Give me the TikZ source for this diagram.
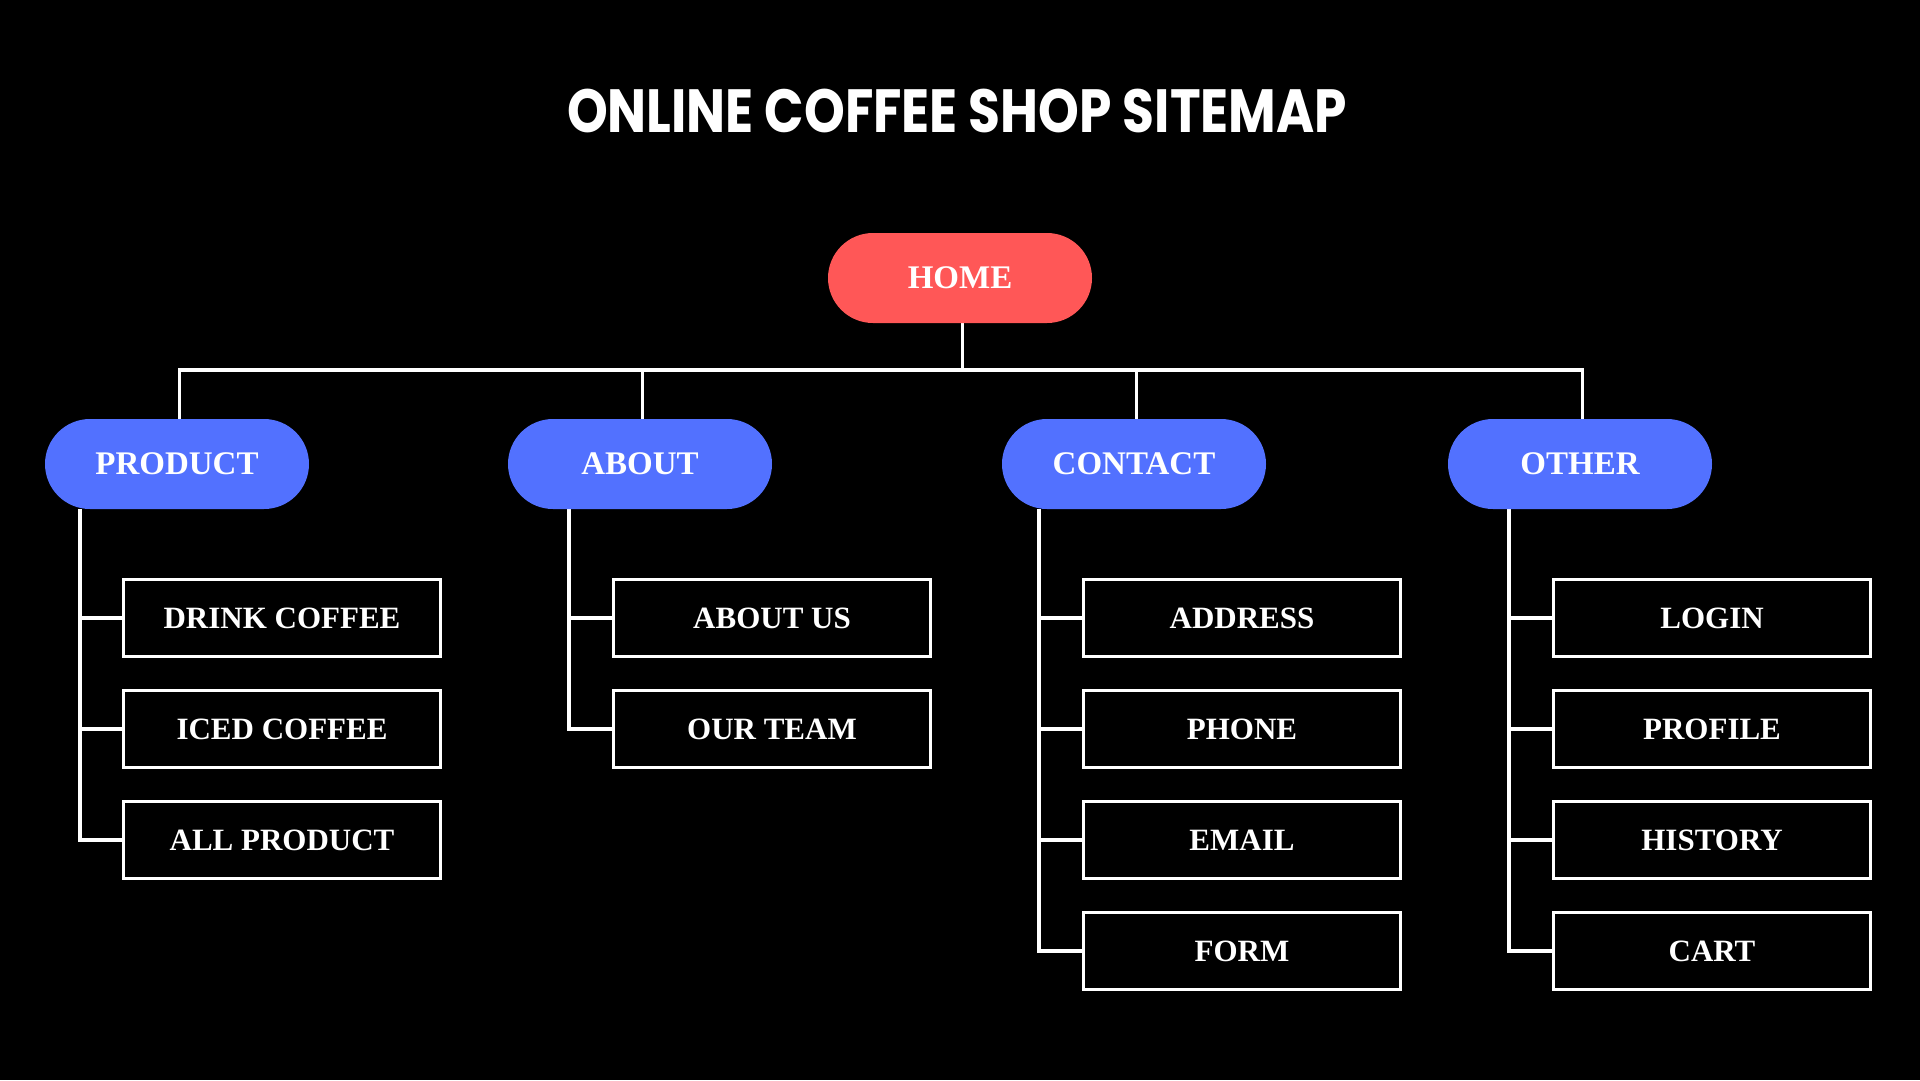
\documentclass[tikz,border=0pt]{standalone}
\usepackage{fontspec}
\setmainfont{Liberation Serif}
\newfontfamily\titlefont{Poppins}[FakeStretch=0.85]
\usepackage{xcolor}
\usetikzlibrary{backgrounds}
\definecolor{smHome}{HTML}{FF5757}
\definecolor{smBlue}{HTML}{5271FF}
\definecolor{smInk}{HTML}{000000}

\begin{document}
\begin{tikzpicture}[
  x=1pt, y=-1pt,
  sitetitle/.style={text=white, inner sep=0pt, font=\titlefont\bfseries\fontsize{61}{70}\selectfont},
  pill/.style={rounded corners=45pt, minimum width=264pt, minimum height=90pt, inner sep=0pt,
               text=white, font=\fontsize{33}{40}\selectfont\bfseries},
  homepill/.style={pill, fill=smHome},
  secpill/.style={pill, fill=smBlue},
  pagebox/.style={draw=white, line width=3.5pt, fill=smInk, text=white, inner sep=0pt,
                  minimum width=317pt, minimum height=77pt, font=\fontsize{31}{37}\selectfont\bfseries},
  link/.style={draw=white, line width=3.5pt},
]
\useasboundingbox (0,0) rectangle (1920,1080);

% ── Title ───────────────────────────────────────────────────────────────────
\node[sitetitle] (title) at (957,111) {ONLINE COFFEE SHOP SITEMAP};

% ── Home + sections ─────────────────────────────────────────────────────────
\node[homepill] (home) at (960,278) {HOME};
\node[secpill] (product) at (177,464) {PRODUCT};
\node[secpill] (about)   at (640,464) {ABOUT};
\node[secpill] (contact) at (1134,464) {CONTACT};
\node[secpill] (other)   at (1580,464) {OTHER};

% ── Pages under each section ────────────────────────────────────────────────
\node[pagebox] (drink)   at (282,618) {DRINK COFFEE};
\node[pagebox] (iced)    at (282,729) {ICED COFFEE};
\node[pagebox] (allprod) at (282,840) {ALL PRODUCT};

\node[pagebox] (aboutus) at (772,618) {ABOUT US};
\node[pagebox] (team)    at (772,729) {OUR TEAM};

\node[pagebox] (address) at (1242,618) {ADDRESS};
\node[pagebox] (phone)   at (1242,729) {PHONE};
\node[pagebox] (email)   at (1242,840) {EMAIL};
\node[pagebox] (form)    at (1242,951) {FORM};

\node[pagebox] (login)   at (1712,618) {LOGIN};
\node[pagebox] (profile) at (1712,729) {PROFILE};
\node[pagebox] (history) at (1712,840) {HISTORY};
\node[pagebox] (cart)    at (1712,951) {CART};

% ── Trunk starts under the section pills ────────────────────────────────────
\coordinate (producttrunk) at ([xshift=35pt]product.south west);
\coordinate (abouttrunk)   at ([xshift=61pt]about.south west);
\coordinate (contacttrunk) at ([xshift=37pt]contact.south west);
\coordinate (othertrunk)   at ([xshift=61pt]other.south west);

% ── Background + connectors ─────────────────────────────────────────────────
\begin{scope}[on background layer]
  \fill[smInk] (0,0) rectangle (1920,1080);

  % Home -> sections (bus)
  \foreach \s in {product,about,contact,other}{
    \draw[link] ([xshift=2.5pt]home.south) -- ++(0,47) -| ([xshift=2.5pt]\s.north);
  }

  % Section -> its pages
  \foreach \s/\kids in {product/{drink,iced,allprod}, about/{aboutus,team},
                        contact/{address,phone,email,form}, other/{login,profile,history,cart}}{
    \foreach \k in \kids { \draw[link] (\s trunk) |- (\k.west); }
  }
\end{scope}

\end{tikzpicture}
\end{document}
